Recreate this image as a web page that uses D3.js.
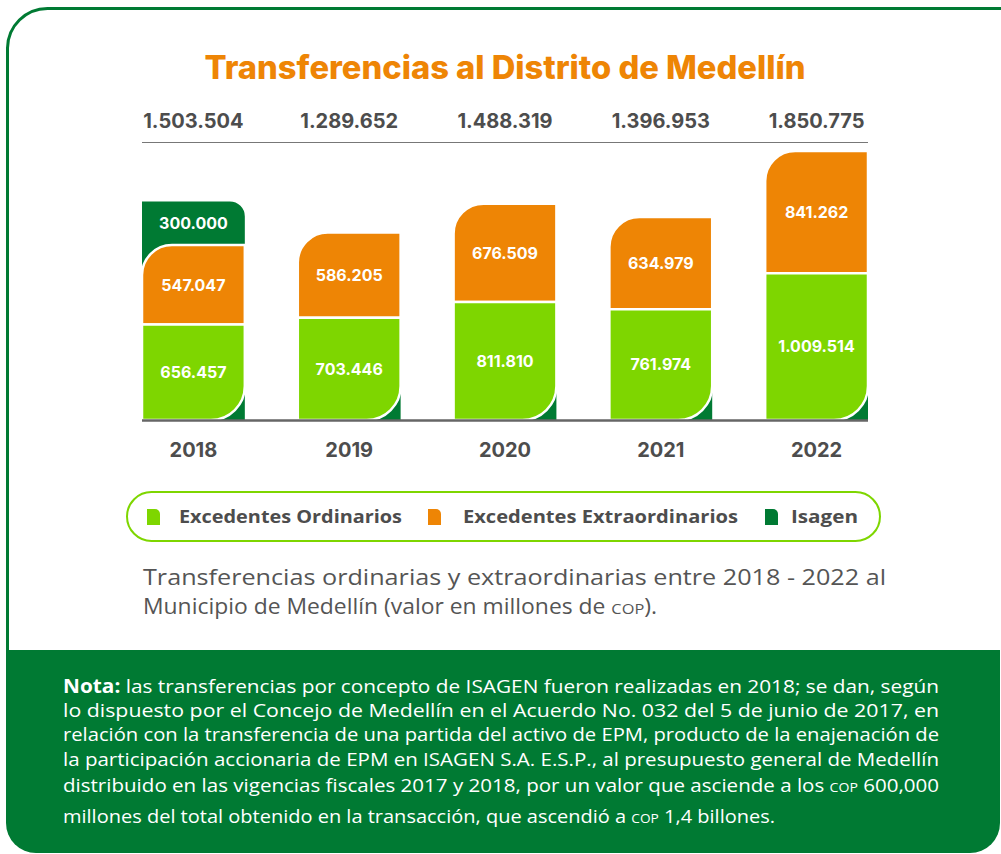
<!DOCTYPE html>
<html>
<head>
<meta charset="utf-8">
<script src="https://cdn.jsdelivr.net/npm/d3@7"></script>
<style>
  html, body { margin: 0; padding: 0; background: #fff; }
  svg { display: block; }
</style>
</head>
<body>
<script>
// data
const years = ["2018", "2019", "2020", "2021", "2022"]
const ordinarios = [656457, 703446, 811810, 761974, 1009514]
const extraordinarios = [547047, 586205, 676509, 634979, 841262]
const isagen = [300000, 0, 0, 0, 0]
const totals = [1503504, 1289652, 1488319, 1396953, 1850775]
const seriesNames = ["Excedentes Ordinarios", "Excedentes Extraordinarios", "Isagen"]

const title = "Transferencias al Distrito de Medellín"
const noteLines = [
    "las transferencias por concepto de ISAGEN fueron realizadas en 2018; se dan, según",
    "lo dispuesto por el Concejo de Medellín en el Acuerdo No. 032 del 5 de junio de 2017, en",
    "relación con la transferencia de una partida del activo de EPM, producto de la enajenación de",
    "la participación accionaria de EPM en ISAGEN S.A. E.S.P., al presupuesto general de Medellín",
    "distribuido en las vigencias fiscales 2017 y 2018, por un valor que asciende a los ",
    "millones del total obtenido en la transacción, que ascendió a "
]

const GREEN = "#7ED600", ORANGE = "#EE8505", DARK = "#007A33", GREY = "#4D4D4D"
const colors = [GREEN, ORANGE, DARK]

const es = d3.formatLocale({decimal: ",", thousands: ".", grouping: [3], currency: ["$", ""]})
const fmt = es.format(",d")

const svg = d3.select("body").append("svg").attr("width", 1001).attr("height", 854)
const FONT = "Inter, 'Open Sans', sans-serif"

// card frame + note panel
svg.append("path")
    .attr("d", "M7.5,652 V48 A40,40 0 0 1 47.5,8.5 H1010")
    .attr("fill", "none").attr("stroke", DARK).attr("stroke-width", 3)
svg.append("path")
    .attr("d", "M6,650 H1000 V823 A30,30 0 0 1 970,853 H36 A30,30 0 0 1 6,823 Z")
    .attr("fill", DARK)

// title
svg.append("text").attr("x", 505).attr("y", 79).attr("text-anchor", "middle")
    .attr("font-family", FONT).attr("font-weight", 800).attr("font-size", 32)
    .attr("fill", ORANGE).attr("textLength", 601).attr("lengthAdjust", "spacingAndGlyphs")
    .text(title)

// scales
const x = d3.scaleBand().domain(years).range([142, 868]).paddingInner(0.34).paddingOuter(0)
const y = d3.scaleLinear().domain([0, d3.max(totals)]).range([420, 151])

const table = years.map((yr, i) => ({year: yr, ord: ordinarios[i], ext: extraordinarios[i], isa: isagen[i]}))
const stack = d3.stack().keys(["ord", "ext", "isa"])(table)

// totals row + rule
svg.append("line").attr("x1", 142).attr("x2", 868).attr("y1", 142.5).attr("y2", 142.5)
    .attr("stroke", "#777").attr("stroke-width", 1.2)
svg.selectAll(".total").data(years).join("text")
    .attr("x", d => x(d) + x.bandwidth() / 2).attr("y", 128)
    .attr("text-anchor", "middle").attr("font-family", FONT).attr("font-weight", 700)
    .attr("font-size", 20).attr("fill", GREY)
    .text((d, i) => fmt(totals[i]))

const bw = x.bandwidth()
const rBot = 34, rTop = 30, rIsa = 15, sq = 27

const bars = svg.append("g")
// dark green corner behind each bar
bars.selectAll(".corner").data(years).join("rect")
    .attr("x", d => x(d) + bw - sq).attr("y", y(0) - sq)
    .attr("width", sq).attr("height", sq).attr("fill", DARK)

// isagen (top segment, extends behind orange's rounded corner)
bars.selectAll(".isa").data(stack[2].filter(d => d[1] > d[0])).join("path")
    .attr("fill", DARK)
    .attr("d", d => {
        const x0 = x(d.data.year), x1 = x0 + bw, t = y(d[1]), b = y(d[0]) + rTop
        return `M${x0},${b} V${t} H${x1 - rIsa} A${rIsa},${rIsa} 0 0 1 ${x1},${t + rIsa} V${b} Z`
    })

// extraordinarios: top-left rounded
bars.selectAll(".ext").data(stack[1]).join("path")
    .attr("fill", ORANGE).attr("stroke", "#fff").attr("stroke-width", 2.5)
    .attr("d", d => {
        const x0 = x(d.data.year), x1 = x0 + bw, t = y(d[1]), b = y(d[0])
        return `M${x0},${b} V${t + rTop} A${rTop},${rTop} 0 0 1 ${x0 + rTop},${t} H${x1} V${b} Z`
    })

// ordinarios: bottom-right rounded
bars.selectAll(".ord").data(stack[0]).join("path")
    .attr("fill", GREEN).attr("stroke", "#fff").attr("stroke-width", 2.5)
    .attr("d", d => {
        const x0 = x(d.data.year), x1 = x0 + bw, t = y(d[1]), b = y(d[0])
        return `M${x0},${t} H${x1} V${b - rBot} A${rBot},${rBot} 0 0 1 ${x1 - rBot},${b} H${x0} Z`
    })

// segment labels
stack.forEach(s => {
    bars.selectAll(null).data(s.filter(d => d[1] > d[0])).join("text")
        .attr("x", d => x(d.data.year) + bw / 2)
        .attr("y", d => (y(d[0]) + y(d[1])) / 2)
        .attr("dy", "0.36em").attr("text-anchor", "middle")
        .attr("font-family", FONT).attr("font-weight", 700).attr("font-size", 16)
        .attr("fill", "#fff")
        .text(d => fmt(d[1] - d[0]))
})

// baseline
svg.append("line").attr("x1", 142).attr("x2", 868).attr("y1", 420.5).attr("y2", 420.5)
    .attr("stroke", "#666").attr("stroke-width", 2.5)

// year labels
svg.selectAll(".year").data(years).join("text")
    .attr("x", d => x(d) + bw / 2).attr("y", 457)
    .attr("text-anchor", "middle").attr("font-family", FONT).attr("font-weight", 700)
    .attr("font-size", 20).attr("fill", GREY).text(d => d)

// legend
svg.append("rect").attr("x", 127).attr("y", 492).attr("width", 753).attr("height", 49)
    .attr("rx", 24.5).attr("fill", "#fff").attr("stroke", GREEN).attr("stroke-width", 2)
const legX = [147, 428, 765]
const legW = [223, 275, 67]
const leg = svg.selectAll(".leg").data(seriesNames).join("g")
    .attr("transform", (d, i) => `translate(${legX[i]},517)`)
leg.append("path").attr("fill", (d, i) => colors[i])
    .attr("d", "M0,-8 H8 A5,5 0 0 1 13,-3 V8 H0 Z")
leg.append("text").attr("x", (d, i) => i === 2 ? 26 : (i === 0 ? 32 : 35)).attr("dy", "0.36em")
    .attr("font-family", "'Open Sans', sans-serif").attr("font-weight", 700).attr("font-size", 18)
    .attr("fill", GREY).attr("textLength", (d, i) => legW[i]).attr("lengthAdjust", "spacingAndGlyphs")
    .text(d => d)

// caption
const cap = svg.append("g").attr("font-family", "'Open Sans', sans-serif").attr("font-size", 21).attr("fill", "#555")
cap.append("text").attr("x", 143).attr("y", 585).attr("textLength", 743).attr("lengthAdjust", "spacingAndGlyphs")
    .text("Transferencias ordinarias y extraordinarias entre 2018 - 2022 al")
const cap2 = cap.append("text").attr("x", 143).attr("y", 614)
    .attr("textLength", 514).attr("lengthAdjust", "spacingAndGlyphs")
cap2.append("tspan").text("Municipio de Medellín (valor en millones de ")
cap2.append("tspan").attr("font-size", 15).text("COP")
cap2.append("tspan").text(").")

// note
const note = svg.append("g").attr("font-family", "'Open Sans', sans-serif").attr("font-size", 19).attr("fill", "#fff")
const noteY = [693, 717, 741, 766, 792, 823]
const noteW = [876, 876, 876, 876, 876, 712]
noteLines.forEach((line, i) => {
    const t = note.append("text").attr("x", 63).attr("y", noteY[i])
        .attr("textLength", noteW[i]).attr("lengthAdjust", "spacingAndGlyphs")
    if (i === 0) t.append("tspan").attr("font-weight", 700).text("Nota: ")
    t.append("tspan").text(line)
    if (i === 4) {
        t.append("tspan").attr("font-size", 13).text("COP")
        t.append("tspan").text(" 600,000")
    }
    if (i === 5) {
        t.append("tspan").attr("font-size", 13).text("COP")
        t.append("tspan").text(" 1,4 billones.")
    }
})
</script>
</body>
</html>
